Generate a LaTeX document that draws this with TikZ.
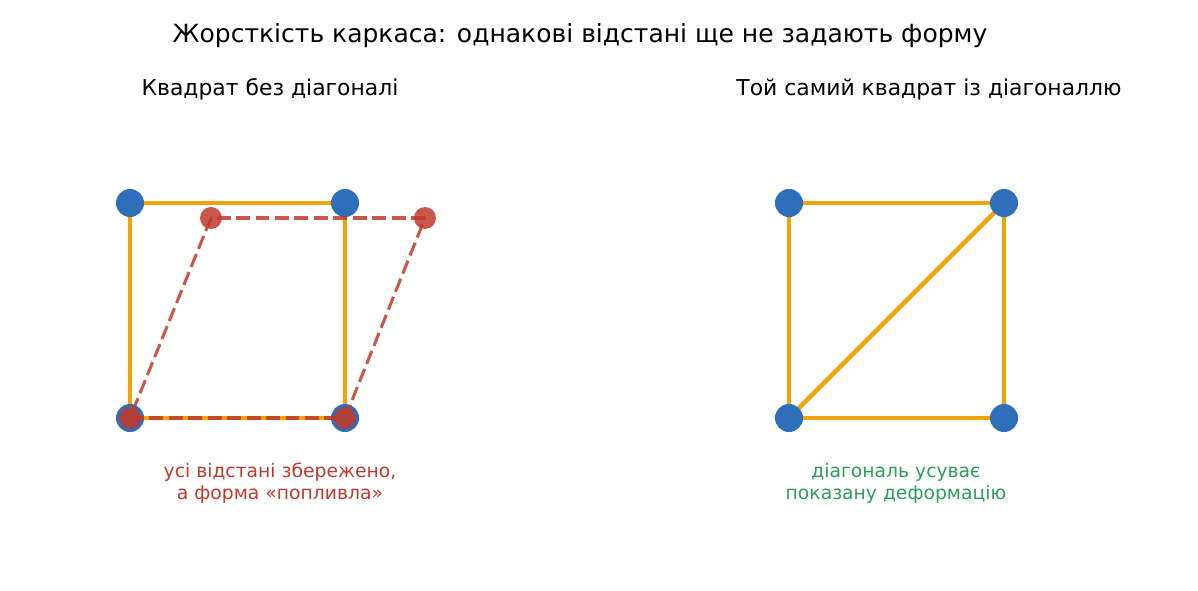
\documentclass[tikz,border=0pt]{standalone}
\usepackage{fontspec}
\setmainfont{DejaVu Sans}
\usetikzlibrary{positioning,calc}

\definecolor{barorange}{HTML}{F0A30A}
\definecolor{jointblue}{HTML}{2F6EB8}
\definecolor{shiftred}{HTML}{C0392B}
\definecolor{okgreen}{HTML}{2A9D5C}

\tikzset{
  joint/.style={circle,fill=jointblue,inner sep=0pt,minimum size=20.2pt},
  shifted/.style={circle,fill=shiftred,fill opacity=0.85,inner sep=0pt,minimum size=15.8pt},
  bar/.style={draw=barorange,line width=3.1pt},
  ghost/.style={draw=shiftred,draw opacity=0.85,line width=2.2pt,dash pattern=on 10pt off 4pt},
}

\begin{document}
\begin{tikzpicture}[x=0.72pt,y=-0.72pt]
\useasboundingbox (0,0) rectangle (1198,591);
\node[font=\fontsize{18}{21}\selectfont] (title) at (580,36) {Жорсткість каркаса: однакові відстані ще не задають форму};
\node[font=\fontsize{15.75}{19}\selectfont] (lefthead) at (270,89) {Квадрат без діагоналі};
\node[font=\fontsize{15.75}{19}\selectfont] (righthead) at (929,89) {Той самий квадрат із діагоналлю};
% left frame, no diagonal
\coordinate (a) at (130,418);
\coordinate (b) at (345,418);
\coordinate (c) at (345,203);
\coordinate (d) at (130,203);
\draw[bar] (a)--(b)--(c)--(d)--cycle;
\node[joint] (A) at (a) {};
\node[joint] (B) at (b) {};
\node[joint] (C) at (c) {};
\node[joint] (D) at (d) {};
% same lengths, sheared shape
\node[shifted] (a1) at (a) {};
\node[shifted] (b1) at (b) {};
\node[shifted] (c1) at (425,218) {};
\node[shifted] (d1) at (211,218) {};
\draw[ghost](a1.center)--(b1.center);
\draw[ghost](b1.center)--(c1.center);
\draw[ghost](c1.center)--(d1.center);
\draw[ghost](d1.center)--(a1.center);
\node[font=\fontsize{13.5}{15.8}\selectfont,text=shiftred,align=center] (leftnote) at (280,483) {усі відстані збережено,\\а форма «попливла»};
% right frame with diagonal
\coordinate (p) at (789,418);
\coordinate (q) at (1004,418);
\coordinate (r) at (1004,203);
\coordinate (s) at (789,203);
\draw[bar] (p)--(q)--(r)--(s)--cycle;
\draw[bar] (p)--(r);
\node[joint] (P) at (p) {};
\node[joint] (Q) at (q) {};
\node[joint] (R) at (r) {};
\node[joint] (S) at (s) {};
\node[font=\fontsize{13.5}{15.8}\selectfont,text=okgreen,align=center] (rightnote) at (896,483) {діагональ усуває\\показану деформацію};
\end{tikzpicture}
\end{document}
